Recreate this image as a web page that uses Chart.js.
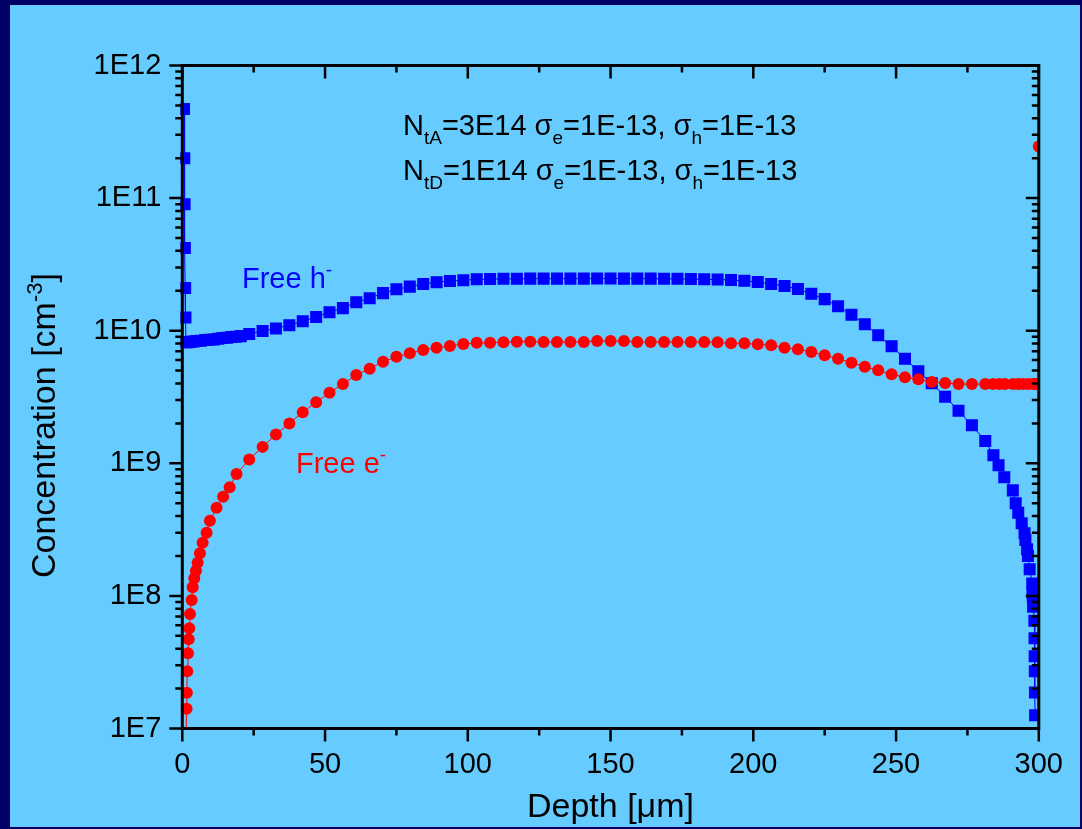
<!DOCTYPE html>
<html>
<head>
<meta charset="utf-8">
<script src="https://cdn.jsdelivr.net/npm/chart.js@4/dist/chart.umd.min.js"></script>
<style>
  html, body { margin: 0; padding: 0; background: #000066; }
  canvas { display: block; }
</style>
</head>
<body>
<canvas id="plot" width="1082" height="829"></canvas>
<script>
// depth in um, concentration in cm^-3

const holeDepth = [
  0.6, 0.7, 0.8, 0.9, 1.0, 1.1,
  1.3, 2.0, 3.0, 4.0, 5.0, 6.5, 8.0, 9.4, 11.0, 12.6, 14.1, 15.7, 17.2, 18.8, 20.5,
  23.44, 28.13, 32.81, 37.5, 42.19, 46.88, 51.56, 56.25, 60.94, 65.63, 70.31, 75, 79.69, 84.38, 89.06, 93.75, 98.44, 103.13,
  107.81, 112.5, 117.19, 121.88, 126.56, 131.25, 135.94, 140.63, 145.31, 150, 154.69, 159.38, 164.06, 168.75, 173.44, 178.13, 182.81, 187.5,
  192.19, 196.88, 201.56, 206.25, 210.94, 215.63, 220.31, 225, 229.69, 234.38, 239.06, 243.75, 248.44, 253.13, 257.81, 262.5, 267.19, 271.88, 276.56, 281.25,
  284.1, 285.9, 287.9, 290.9, 291.9, 292.8, 294.0, 295.0, 295.3, 295.9, 296.2, 296.8, 297.7, 297.8, 297.9, 298.0, 298.45, 298.5, 298.55, 298.6, 298.65, 298.7
];
const holeConc = [
  4.7e11, 2.0e11, 9.0e10, 4.2e10, 2.1e10, 1.26e10,
  8.2e9, 8.2e9, 8.25e9, 8.3e9, 8.35e9, 8.4e9, 8.5e9, 8.55e9, 8.6e9, 8.7e9, 8.8e9, 8.85e9, 8.95e9, 9.0e9, 9.1e9,
  9.44e9, 9.95e9, 1.04e10, 1.10e10, 1.18e10, 1.27e10, 1.38e10, 1.48e10, 1.64e10, 1.76e10, 1.92e10, 2.05e10, 2.15e10, 2.25e10, 2.32e10, 2.37e10, 2.40e10, 2.44e10,
  2.45e10, 2.46e10, 2.46e10, 2.47e10, 2.47e10, 2.47e10, 2.47e10, 2.47e10, 2.48e10, 2.48e10, 2.47e10, 2.47e10, 2.47e10, 2.46e10, 2.46e10, 2.45e10, 2.44e10, 2.43e10,
  2.41e10, 2.38e10, 2.33e10, 2.25e10, 2.17e10, 2.06e10, 1.90e10, 1.73e10, 1.53e10, 1.32e10, 1.12e10, 9.23e9, 7.62e9, 6.15e9, 4.94e9, 4.01e9, 3.18e9, 2.49e9, 1.94e9, 1.47e9,
  1.15e9, 9.66e8, 7.84e8, 6.25e8, 4.99e8, 4.24e8, 3.53e8, 2.97e8, 2.64e8, 2.25e8, 2.0e8, 1.59e8, 1.24e8, 1.05e8, 9.8e7, 8.3e7, 6.5e7, 4.8e7, 3.5e7, 2.7e7, 1.87e7, 1.26e7
];

const elecDepth = [
  1.2, 1.5, 1.6, 1.74, 1.99, 2.23, 2.44, 2.69, 3.28, 3.63, 4.19, 4.78, 5.37, 6.17, 7.12, 8.51, 9.66, 12.0, 14.3, 16.6, 19.0,
  23.44, 28.13, 32.81, 37.5, 42.19, 46.88, 51.56, 56.25, 60.94, 65.63, 70.31, 75, 79.69, 84.38, 89.06, 93.75, 98.44, 103.13,
  107.81, 112.5, 117.19, 121.88, 126.56, 131.25, 135.94, 140.63, 145.31, 150, 154.69, 159.38, 164.06, 168.75, 173.44, 178.13, 182.81, 187.5,
  192.19, 196.88, 201.56, 206.25, 210.94, 215.63, 220.31, 225, 229.69, 234.38, 239.06, 243.75, 248.44, 253.13, 257.81, 262.5, 267.19, 271.88, 276.56, 281.25,
  284.0, 286.2, 288.1, 291.0, 292.8, 294.5, 296.3, 298.0, 298.8, 299.4, 299.8, 300
];
const elecConc = [
  6e6, 1.41e7, 1.86e7, 2.70e7, 3.69e7, 4.71e7, 5.70e7, 7.30e7, 9.31e7, 1.16e8, 1.36e8, 1.55e8, 1.78e8, 2.10e8, 2.52e8, 3.00e8, 3.69e8, 4.63e8, 5.60e8, 6.59e8, 8.30e8,
  1.07e9, 1.33e9, 1.65e9, 2.00e9, 2.43e9, 2.89e9, 3.41e9, 3.96e9, 4.63e9, 5.17e9, 5.83e9, 6.36e9, 6.75e9, 7.16e9, 7.45e9, 7.67e9, 7.94e9, 8.1e9,
  8.1e9, 8.18e9, 8.27e9, 8.27e9, 8.22e9, 8.22e9, 8.22e9, 8.22e9, 8.36e9, 8.36e9, 8.36e9, 8.22e9, 8.22e9, 8.22e9, 8.22e9, 8.22e9, 8.22e9, 8.18e9,
  8.03e9, 8.03e9, 7.89e9, 7.76e9, 7.45e9, 7.24e9, 6.91e9, 6.52e9, 6.15e9, 5.74e9, 5.35e9, 5.03e9, 4.69e9, 4.45e9, 4.30e9, 4.10e9, 4.03e9, 3.96e9, 3.96e9, 3.96e9,
  3.96e9, 3.96e9, 3.96e9, 3.96e9, 3.96e9, 3.96e9, 3.96e9, 3.96e9, 3.96e9, 3.96e9, 3.96e9, 2.45e11
];

const depthTicks = [0, 50, 100, 150, 200, 250, 300];
const decades = [7, 8, 9, 10, 11, 12];

const FONT = "'Liberation Sans', Arial, sans-serif";

// draw a run of text pieces: [text, size, dy]
function drawRich(ctx, x, y, parts, color) {
  ctx.fillStyle = color;
  ctx.textBaseline = "alphabetic";
  ctx.textAlign = "left";
  for (const [t, size, dy] of parts) {
    ctx.font = `${size}px ${FONT}`;
    ctx.fillText(t, x, y + dy);
    x += ctx.measureText(t).width;
  }
}

const framePlugin = {
  id: "frame",
  beforeDraw(chart) {
    const ctx = chart.ctx;
    ctx.save();
    ctx.fillStyle = "#000066";
    ctx.fillRect(0, 0, chart.width, chart.height);
    ctx.fillStyle = "#66CCFF";
    ctx.fillRect(10, 5, chart.width - 12, chart.height - 7);
    ctx.restore();
  },
  afterDraw(chart) {
    const ctx = chart.ctx;
    const a = chart.chartArea;
    const xs = chart.scales.x, ys = chart.scales.y;
    ctx.save();
    ctx.strokeStyle = "#000";
    ctx.lineWidth = 3;
    ctx.strokeRect(a.left, a.top, a.right - a.left, a.bottom - a.top);

    ctx.lineWidth = 2.5;
    const big = 13, small = 7;
    ctx.beginPath();
    // y ticks: left outward, right inward
    for (let i = 0; i < decades.length; i++) {
      const e = decades[i];
      const py = ys.getPixelForValue(Math.pow(10, e));
      ctx.moveTo(a.left - big, py); ctx.lineTo(a.left, py);
      ctx.moveTo(a.right - big, py); ctx.lineTo(a.right, py);
      if (i === decades.length - 1) break;
      for (let m = 2; m <= 9; m++) {
        const p = ys.getPixelForValue(m * Math.pow(10, e));
        ctx.moveTo(a.left - small, p); ctx.lineTo(a.left, p);
        ctx.moveTo(a.right - small, p); ctx.lineTo(a.right, p);
      }
    }
    // x ticks: bottom outward, top inward
    for (let i = 0; i < depthTicks.length; i++) {
      const px = xs.getPixelForValue(depthTicks[i]);
      ctx.moveTo(px, a.bottom); ctx.lineTo(px, a.bottom + big);
      ctx.moveTo(px, a.top); ctx.lineTo(px, a.top + big);
      if (i < depthTicks.length - 1) {
        const pm = xs.getPixelForValue((depthTicks[i] + depthTicks[i + 1]) / 2);
        ctx.moveTo(pm, a.bottom); ctx.lineTo(pm, a.bottom + small);
        ctx.moveTo(pm, a.top); ctx.lineTo(pm, a.top + small);
      }
    }
    ctx.stroke();

    // axis titles
    drawRich(ctx, 527, 817, [["Depth [\u03BCm]", 34, 0]], "#000");
    ctx.save();
    ctx.translate(55, 578);
    ctx.rotate(-Math.PI / 2);
    drawRich(ctx, 0, 0, [["Concentration [cm", 34, 0], ["-3", 22, -13], ["]", 34, 0]], "#000");
    ctx.restore();

    // annotations
    drawRich(ctx, 403, 135, [["N", 29, 0], ["tA", 19, 9], ["=3E14 ", 29, 0], ["\u03C3", 29, 0], ["e", 19, 9],
      ["=1E-13, ", 29, 0], ["\u03C3", 29, 0], ["h", 19, 9], ["=1E-13", 29, 0]], "#000");
    drawRich(ctx, 403, 180, [["N", 29, 0], ["tD", 19, 9], ["=1E14 ", 29, 0], ["\u03C3", 29, 0], ["e", 19, 9],
      ["=1E-13, ", 29, 0], ["\u03C3", 29, 0], ["h", 19, 9], ["=1E-13", 29, 0]], "#000");

    drawRich(ctx, 242, 288, [["Free h", 29, 0], ["-", 19, -12]], "#0000FF");
    drawRich(ctx, 296, 473, [["Free e", 29, 0], ["-", 19, -12]], "#FF0000");
    ctx.restore();
  },
};

const clipBox = { left: 2, top: 2, right: 1, bottom: 0 };

new Chart(document.getElementById("plot"), {
  type: "line",
  data: {
    datasets: [
      {
        label: "Free e-",
        data: elecDepth.map((x, i) => ({ x, y: elecConc[i] })),
        borderColor: "#FF0000",
        borderWidth: 1,
        pointStyle: "circle",
        pointRadius: 6,
        pointBackgroundColor: "#FF0000",
        pointBorderWidth: 0,
        clip: clipBox,
      },
      {
        label: "Free h-",
        data: holeDepth.map((x, i) => ({ x, y: holeConc[i] })),
        borderColor: "#0000FF",
        borderWidth: 1,
        pointStyle: "rect",
        pointRadius: 8.5,
        pointBackgroundColor: "#0000FF",
        pointBorderWidth: 0,
        clip: clipBox,
      },
    ],
  },
  options: {
    responsive: false,
    animation: false,
    events: [],
    layout: { padding: { left: 0, right: 41.7, top: 65.5, bottom: 0 } },
    plugins: { legend: { display: false }, tooltip: { enabled: false } },
    scales: {
      x: {
        type: "linear",
        min: 0,
        max: 300,
        grid: { display: false, drawTicks: false },
        border: { display: false },
        ticks: {
          stepSize: 50,
          color: "#000",
          maxRotation: 0,
          padding: 19,
          font: { family: FONT, size: 29 },
        },
        afterFit(s) { s.height = 829 - 728.5; },
      },
      y: {
        type: "logarithmic",
        min: 1e7,
        max: 1e12,
        grid: { display: false, drawTicks: false },
        border: { display: false },
        ticks: {
          autoSkip: false,
          color: "#000",
          padding: 21,
          font: { family: FONT, size: 29 },
          callback: (v) => {
            const e = Math.round(Math.log10(v));
            return Math.abs(v - Math.pow(10, e)) < 1e-6 * v ? "1E" + e : "";
          },
        },
        afterFit(s) { s.width = 182.3; },
      },
    },
  },
  plugins: [framePlugin],
});
</script>
</body>
</html>
